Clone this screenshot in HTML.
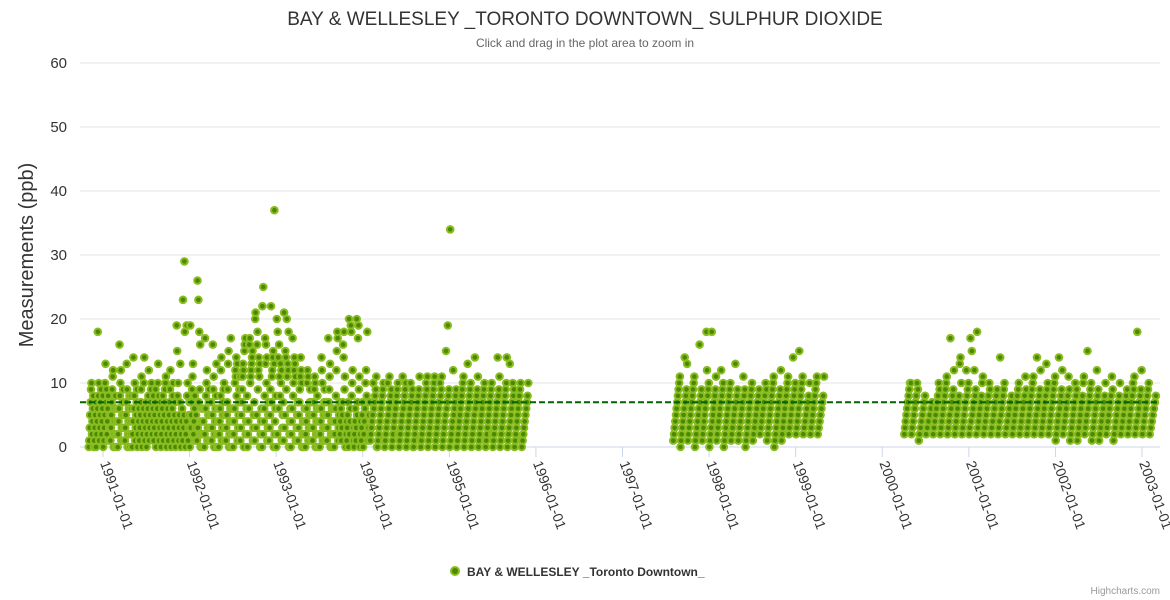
<!DOCTYPE html>
<html><head><meta charset="utf-8"><style>
body{margin:0;background:#fff;}
svg{display:block;font-family:"Liberation Sans",sans-serif;}
</style></head><body>
<svg id="chart" width="1170" height="600">
<text x="585" y="25" text-anchor="middle" font-size="19" fill="#333">BAY &amp; WELLESLEY _TORONTO DOWNTOWN_ SULPHUR DIOXIDE</text>
<text x="585" y="47" text-anchor="middle" font-size="12" fill="#666">Click and drag in the plot area to zoom in</text>
<text transform="translate(33,255) rotate(-90)" text-anchor="middle" font-size="20" fill="#333">Measurements (ppb)</text>
<g id="grid"></g><g id="xaxis"></g><g id="points"></g><g id="mean"></g>
<g>
<circle cx="455" cy="571" r="4" fill="#4a8a00" stroke="#8bbc21" stroke-width="2"></circle>
<text x="467" y="576" font-size="12" font-weight="bold" fill="#333">BAY &amp; WELLESLEY _Toronto Downtown_</text></g>
<text x="1160" y="594" text-anchor="end" font-size="10" fill="#999">Highcharts.com</text>
</svg>
<script>
const yTicks=[0,10,20,30,40,50,60];
const xTickYears=[1991,1992,1993,1994,1995,1996,1997,1998,1999,2000,2001,2002,2003];
const meanValue=7;
const seg1Start=[1990,11];
const seg1=["013579a246801357","0246i8a135792468",
"0135ad7924681357","13579bc024680246","0246g8ac13579135","1357d90246802468","024e68a135790246","13579b0246ae1357","02468c13579a2468","135790246ad81357","0246813579ab0246","13579c02468a1357","024jf8a1357d0246","1n35ti024j8a1357",
"0j3579bd24681357","1q3n7i9g02460246","02h68ac135791357","135g9b02468d0246","02468ce13579a135","13579df0246h0246","0246acbe8d13579b","13579bdc0fgh2468","0246ghabcdef1357","1kl35gi9cebd0246","0m2p468hdgae1357","1359m7bcef0d2468",
"0k2ie6gb8dac1357","1l35fe9kbdci0246","0246h8acedb11357","13579beca0240246","0246acb135791357","13579ba024680246","0246eca135791357","135h79bd02460246","02468cfih1357246","1357gei9b0241357","0k246ji8ac130246","13k57hj9b0241357",
"0246ac8i1357","12345a6789b0","0123456789a1","01234a56b789","0123456789a2","012345b6789a","0123456a7890","0123456789b1","012345678a9b","0123456789ab","01234567a89b","012345f67j89",
"0y1234c56789","0123456789ab","012345d6789a","012345e6789b","0123456789a1","0123456789a2","01234567e89b","0123456789ae","0123d4567a89","0123456789a1","012345678a"];
const seg2Start=[1997,8];
const seg2=["123456789ab","0123456e789d","123456789ab","0123456g789","1234567ic89a",
"0123i456789b","1234567c89a","0123456789a","123456d789","1234567b89","0123456789a","123456789","2345678a9","123456789ab","0123456789c","123456789ab","234567e89a",
"23456f789ab","2345678a","23456789ab","2345678b"];
const seg3Start=[2000,4];
const seg3=["23456789aa","2345678a9","12345678","234567","2345678a9","23456789ab","2345h6789c","2345678dea","234567c89a",
"23h4f567c89","2i345678ab","2345678a9","23456789","234e56789a","2345678","23456789a","2345678b9","23456789ab","2345e6789c","2345678d9a","23456789ab",
"12345e6789c","2345678b9","1234567a89","12345678ab","2345f6789a","1234567c89","12345678a","2345678b9","12345678a","23456789","2345678a9b","234i56789c",
"23456789a","2345678"];
const peakDates=[1992.98];
const peakValues=[37];

const NS="http://www.w3.org/2000/svg";
const L=80,R=1160,T=63,B=447;
const xs=t=>103+(t-1991)/12*1039;
const ys=v=>B-(v/60)*(B-T);
function mk(tag,attrs,parent){const e=document.createElementNS(NS,tag);for(const k in attrs)e.setAttribute(k,attrs[k]);parent.appendChild(e);return e;}
const grid=document.getElementById('grid');
yTicks.forEach(v=>{
  const ln=mk('line',{x1:L,x2:R,y1:ys(v),y2:ys(v),stroke:v===0?'#ccd6eb':'#e6e6e6','stroke-width':1},grid);
  
  
  const tx=mk('text',{x:67,y:ys(v)+5,'text-anchor':'end','font-size':15,fill:'#333'},grid);
  tx.textContent=v;
  
  
});
const xa=document.getElementById('xaxis');
xTickYears.forEach(y=>{
  const x=xs(y);
  const tk=mk('line',{x1:x,x2:x,y1:B,y2:B+10,stroke:'#ccd6eb'},xa);
  
  
  const tx=mk('text',{transform:`translate(${x-3},${B+16}) rotate(70)`,'font-size':14,fill:'#333'},xa);
  tx.textContent=y+'-01-01';
  
  
});
const pg=document.getElementById('points');
function dot(t,v){
  const c=mk('circle',{cx:xs(t).toFixed(1),cy:ys(v).toFixed(1),r:3.3,fill:'#4a8a00',stroke:'#8bbc21','stroke-width':2},pg);
  
  
}
function drawSeg(start,months){
  months.forEach((s,mi)=>{
    const m0=start[0]+(start[1]-1+mi)/12;
    for(let i=0;i<s.length;i++){dot(m0+(i+0.5)/s.length/12,parseInt(s[i],36));}
  });
}
drawSeg(seg1Start,seg1);drawSeg(seg2Start,seg2);drawSeg(seg3Start,seg3);
peakDates.forEach((d,i)=>dot(d,peakValues[i]));
const ml=mk('line',{x1:L,x2:R,y1:ys(meanValue),y2:ys(meanValue),stroke:'#006400','stroke-width':2,'stroke-dasharray':'6,3'},document.getElementById('mean'));


</script>
</body></html>
